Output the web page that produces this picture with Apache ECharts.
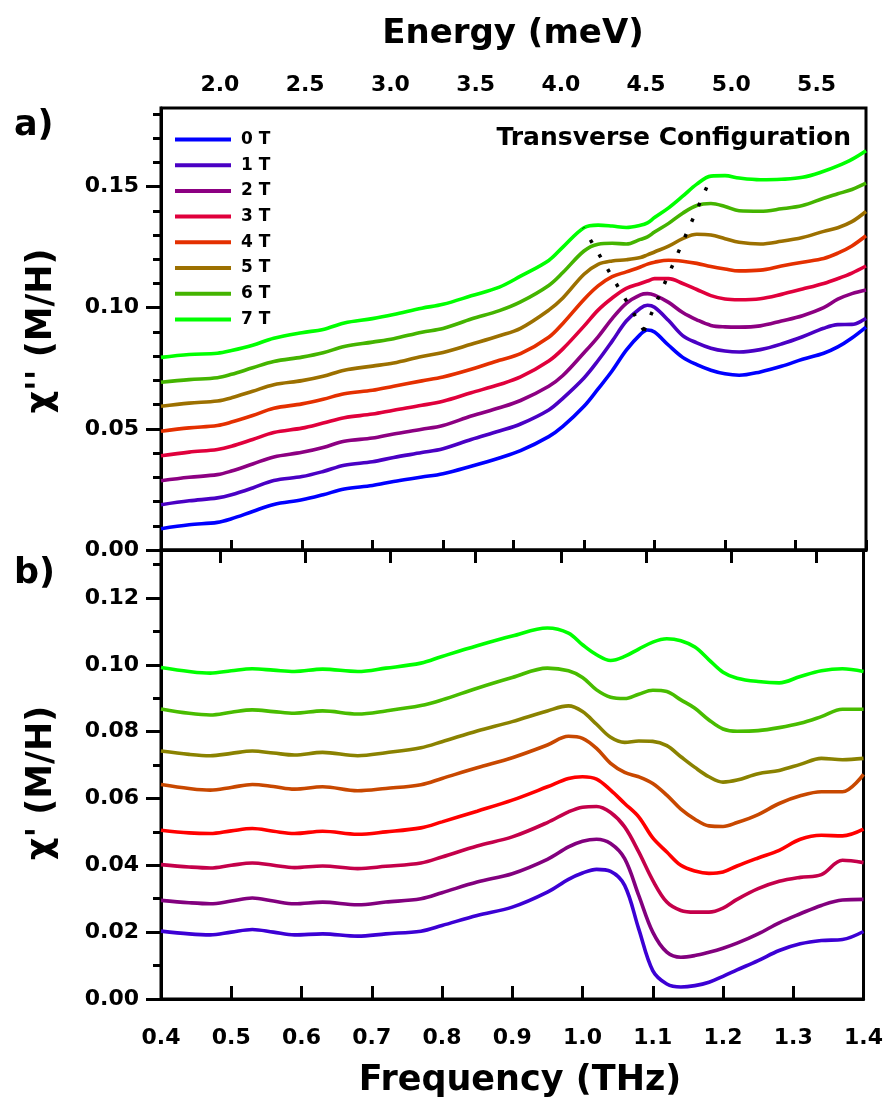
<!DOCTYPE html>
<html>
<head>
<meta charset="utf-8">
<script src="https://cdn.jsdelivr.net/npm/echarts@6/dist/echarts.min.js"></script>
<style>
  html, body { margin: 0; padding: 0; background: #fff; }
  #chart { width: 886px; height: 1105px; }
</style>
</head>
<body>
<div id="chart"></div>
<script>
// Applied field for each trace
const FIELDS = ['0 T', '1 T', '2 T', '3 T', '4 T', '5 T', '6 T', '7 T'];

// (a) imaginary part chi'' (offset traces)
const FREQ_A = [0.40, 0.44, 0.48, 0.50, 0.53, 0.56, 0.60, 0.63, 0.66, 0.70, 0.73, 0.77, 0.80, 0.84, 0.88, 0.91,
  0.95, 0.97, 1.00, 1.02, 1.04, 1.06, 1.08, 1.09, 1.10, 1.12, 1.14, 1.16, 1.18, 1.20, 1.22, 1.25, 1.28, 1.31,
  1.34, 1.36, 1.38, 1.40];
const CHI2_0T = [0.0088, 0.0104, 0.0114, 0.0129, 0.0159, 0.0188, 0.0207, 0.0228, 0.0252, 0.0266, 0.0283, 0.0301,
  0.0315, 0.0346, 0.0380, 0.0410, 0.0468, 0.0510, 0.0593, 0.0665, 0.0740, 0.0825, 0.0890, 0.0908, 0.0900, 0.0845,
  0.0795, 0.0765, 0.0742, 0.0727, 0.0721, 0.0735, 0.0758, 0.0787, 0.0812, 0.0838, 0.0875, 0.0920];
const CHI2_1T = [0.0187, 0.0203, 0.0215, 0.0228, 0.0256, 0.0287, 0.0303, 0.0324, 0.0350, 0.0364, 0.0382, 0.0402,
  0.0418, 0.0456, 0.0491, 0.0520, 0.0578, 0.0626, 0.0710, 0.0782, 0.0862, 0.0945, 0.0998, 0.1010, 0.1002, 0.0947,
  0.0885, 0.0855, 0.0833, 0.0821, 0.0817, 0.0827, 0.0850, 0.0880, 0.0915, 0.0930, 0.0931, 0.0956];
const CHI2_2T = [0.0286, 0.0300, 0.0311, 0.0326, 0.0355, 0.0384, 0.0403, 0.0423, 0.0449, 0.0462, 0.0479, 0.0498,
  0.0514, 0.0553, 0.0587, 0.0617, 0.0676, 0.0720, 0.0814, 0.0880, 0.0955, 0.1018, 0.1053, 0.1058, 0.1052, 0.1022,
  0.0980, 0.0950, 0.0927, 0.0921, 0.0920, 0.0925, 0.0945, 0.0967, 0.1000, 0.1035, 0.1058, 0.1073];
const CHI2_3T = [0.0389, 0.0404, 0.0415, 0.0428, 0.0456, 0.0485, 0.0503, 0.0524, 0.0546, 0.0561, 0.0577, 0.0597,
  0.0614, 0.0649, 0.0683, 0.0714, 0.0780, 0.0830, 0.0924, 0.0990, 0.1040, 0.1080, 0.1100, 0.1110, 0.1120, 0.1120,
  0.1100, 0.1075, 0.1050, 0.1036, 0.1033, 0.1037, 0.1055, 0.1077, 0.1100, 0.1120, 0.1143, 0.1172];
const CHI2_4T = [0.0490, 0.0504, 0.0514, 0.0528, 0.0555, 0.0585, 0.0603, 0.0622, 0.0645, 0.0659, 0.0676, 0.0698,
  0.0714, 0.0746, 0.0783, 0.0810, 0.0878, 0.0935, 0.1034, 0.1090, 0.1128, 0.1148, 0.1168, 0.1180, 0.1188, 0.1196,
  0.1192, 0.1183, 0.1170, 0.1160, 0.1152, 0.1155, 0.1172, 0.1188, 0.1203, 0.1225, 0.1255, 0.1297];
const CHI2_5T = [0.0593, 0.0606, 0.0615, 0.0628, 0.0655, 0.0682, 0.0699, 0.0717, 0.0742, 0.0759, 0.0772, 0.0799,
  0.0815, 0.0849, 0.0884, 0.0915, 0.0990, 0.1040, 0.1138, 0.1179, 0.1193, 0.1198, 0.1207, 0.1218, 0.1230, 0.1254,
  0.1285, 0.1303, 0.1300, 0.1285, 0.1270, 0.1263, 0.1274, 0.1290, 0.1315, 0.1330, 0.1355, 0.1397];
const CHI2_6T = [0.0692, 0.0703, 0.0711, 0.0725, 0.0752, 0.0778, 0.0796, 0.0814, 0.0840, 0.0858, 0.0872, 0.0899,
  0.0914, 0.0953, 0.0988, 0.1024, 0.1092, 0.1145, 0.1234, 0.1262, 0.1266, 0.1263, 0.1282, 0.1292, 0.1312, 0.1348,
  0.1390, 0.1422, 0.1430, 0.1418, 0.1400, 0.1398, 0.1408, 0.1422, 0.1452, 0.1470, 0.1488, 0.1514];
const CHI2_7T = [0.0795, 0.0807, 0.0812, 0.0823, 0.0845, 0.0874, 0.0897, 0.0910, 0.0937, 0.0955, 0.0972, 0.0998,
  0.1014, 0.1049, 0.1085, 0.1130, 0.1195, 0.1250, 0.1330, 0.1341, 0.1337, 0.1331, 0.1340, 0.1350, 0.1372, 0.1412,
  0.1460, 0.1510, 0.1543, 0.1545, 0.1535, 0.1528, 0.1530, 0.1538, 0.1563, 0.1585, 0.1612, 0.1648];

// Mode splitting guides: lower and upper branch, from the zero-field peak
const SPLIT_LOWER = [[1.085, 0.0905], [0.999, 0.1330]];
const SPLIT_UPPER = [[1.085, 0.0905], [1.176, 0.1510]];

// (b) real part chi' (offset traces)
const FREQ_B = [0.40, 0.44, 0.47, 0.50, 0.53, 0.56, 0.59, 0.63, 0.68, 0.72, 0.77, 0.80, 0.85, 0.90, 0.95, 0.98,
  1.00, 1.02, 1.04, 1.06, 1.08, 1.10, 1.12, 1.14, 1.16, 1.18, 1.20, 1.22, 1.25, 1.28, 1.31, 1.34, 1.37, 1.40];
const CHI1_0T = [0.0203, 0.0195, 0.0192, 0.0200, 0.0208, 0.0200, 0.0192, 0.0195, 0.0188, 0.0195, 0.0203, 0.0220,
  0.0250, 0.0275, 0.0320, 0.0358, 0.0377, 0.0388, 0.0382, 0.0340, 0.0210, 0.0085, 0.0045, 0.0036, 0.0040, 0.0050,
  0.0068, 0.0087, 0.0115, 0.0145, 0.0165, 0.0175, 0.0178, 0.0202];
const CHI1_1T = [0.0295, 0.0288, 0.0285, 0.0293, 0.0302, 0.0293, 0.0285, 0.0290, 0.0282, 0.0290, 0.0300, 0.0318,
  0.0350, 0.0375, 0.0418, 0.0455, 0.0472, 0.0478, 0.0465, 0.0420, 0.0310, 0.0200, 0.0140, 0.0125, 0.0130, 0.0140,
  0.0152, 0.0167, 0.0195, 0.0228, 0.0255, 0.0280, 0.0296, 0.0298];
const CHI1_2T = [0.0402, 0.0395, 0.0392, 0.0400, 0.0407, 0.0400, 0.0393, 0.0398, 0.0390, 0.0397, 0.0407, 0.0425,
  0.0458, 0.0485, 0.0528, 0.0560, 0.0574, 0.0576, 0.0558, 0.0515, 0.0440, 0.0355, 0.0290, 0.0265, 0.0260, 0.0260,
  0.0272, 0.0298, 0.0330, 0.0352, 0.0364, 0.0372, 0.0415, 0.0408];
const CHI1_3T = [0.0505, 0.0497, 0.0495, 0.0503, 0.0510, 0.0502, 0.0495, 0.0502, 0.0493, 0.0500, 0.0512, 0.0530,
  0.0562, 0.0595, 0.0635, 0.0660, 0.0665, 0.0658, 0.0625, 0.0585, 0.0545, 0.0482, 0.0440, 0.0400, 0.0383, 0.0376,
  0.0380, 0.0398, 0.0422, 0.0445, 0.0478, 0.0490, 0.0488, 0.0508];
const CHI1_4T = [0.0642, 0.0630, 0.0625, 0.0633, 0.0642, 0.0636, 0.0628, 0.0635, 0.0623, 0.0630, 0.0641, 0.0660,
  0.0692, 0.0722, 0.0760, 0.0786, 0.0780, 0.0750, 0.0705, 0.0678, 0.0665, 0.0645, 0.0610, 0.0568, 0.0538, 0.0518,
  0.0516, 0.0528, 0.0552, 0.0585, 0.0608, 0.0620, 0.0620, 0.0672];
const CHI1_5T = [0.0742, 0.0732, 0.0728, 0.0735, 0.0742, 0.0736, 0.0730, 0.0738, 0.0728, 0.0737, 0.0752, 0.0770,
  0.0802, 0.0830, 0.0862, 0.0877, 0.0860, 0.0822, 0.0783, 0.0768, 0.0772, 0.0771, 0.0758, 0.0725, 0.0693, 0.0665,
  0.0649, 0.0655, 0.0674, 0.0684, 0.0702, 0.0720, 0.0716, 0.0720];
const CHI1_6T = [0.0868, 0.0855, 0.0850, 0.0858, 0.0865, 0.0860, 0.0855, 0.0862, 0.0853, 0.0862, 0.0878, 0.0895,
  0.0930, 0.0962, 0.0990, 0.0982, 0.0962, 0.0925, 0.0903, 0.0899, 0.0912, 0.0924, 0.0920, 0.0895, 0.0870, 0.0835,
  0.0808, 0.0801, 0.0803, 0.0812, 0.0825, 0.0845, 0.0867, 0.0867];
const CHI1_7T = [0.0992, 0.0980, 0.0975, 0.0982, 0.0988, 0.0984, 0.0980, 0.0987, 0.0980, 0.0990, 0.1005, 0.1025,
  0.1057, 0.1086, 0.1110, 0.1095, 0.1060, 0.1030, 0.1013, 0.1025, 0.1047, 0.1068, 0.1078, 0.1072, 0.1053, 0.1015,
  0.0978, 0.0960, 0.0950, 0.0946, 0.0965, 0.0982, 0.0988, 0.0980];

// Tick labels
const FREQ_TICKS = [0.4, 0.5, 0.6, 0.7, 0.8, 0.9, 1.0, 1.1, 1.2, 1.3, 1.4];
const ENERGY_TICKS = [2.0, 2.5, 3.0, 3.5, 4.0, 4.5, 5.0, 5.5];
const CHI2_TICKS = [0.00, 0.05, 0.10, 0.15];
const CHI1_TICKS = [0.00, 0.02, 0.04, 0.06, 0.08, 0.10, 0.12];

const MEV_PER_THZ = 4.1357;
const F_MIN = 0.4, F_MAX = 1.4;

const CHI2_SET = [CHI2_0T, CHI2_1T, CHI2_2T, CHI2_3T, CHI2_4T, CHI2_5T, CHI2_6T, CHI2_7T];
const CHI1_SET = [CHI1_0T, CHI1_1T, CHI1_2T, CHI1_3T, CHI1_4T, CHI1_5T, CHI1_6T, CHI1_7T];

const COLORS_A = ['#0000ff', '#4a00c4', '#8c0082', '#e0003c', '#e43000', '#9c7000', '#44b400', '#00ff00'];
const COLORS_B = ['#3c00d4', '#82007e', '#c4004a', '#ff0000', '#c84800', '#8a8200', '#48bc00', '#00ff00'];

const FONT = '"DejaVu Sans", "Liberation Sans", sans-serif';

function steps(start, end, step) {
  const out = [];
  for (let k = 0; start + k * step <= end + 1e-9; k++) out.push(+(start + k * step).toFixed(4));
  return out;
}
const MINOR_A = steps(0, 0.18, 0.01);
const MINOR_B = steps(0, 0.13, 0.01);

const chart = echarts.init(document.getElementById('chart'), null, { renderer: 'canvas' });

const tickLabel = { color: '#000', fontFamily: FONT, fontWeight: 'bold', fontSize: 22 };
const blackLine = { color: '#000', width: 3 };

const series = [];
FIELDS.forEach((name, i) => {
  series.push({
    name, type: 'line', xAxisIndex: 0, yAxisIndex: 0,
    data: FREQ_A.map((f, k) => [f, CHI2_SET[i][k]]),
    showSymbol: false, symbol: 'none', smooth: 0.35,
    lineStyle: { color: COLORS_A[i], width: 3.6 }, itemStyle: { color: COLORS_A[i] },
    z: 3
  });
});
FIELDS.forEach((name, i) => {
  series.push({
    name, type: 'line', xAxisIndex: 2, yAxisIndex: 2,
    data: FREQ_B.map((f, k) => [f, CHI1_SET[i][k]]),
    showSymbol: false, symbol: 'none', smooth: 0.35,
    lineStyle: { color: COLORS_B[i], width: 3.6 }, itemStyle: { color: COLORS_B[i] },
    z: 3
  });
});
[SPLIT_LOWER, SPLIT_UPPER].forEach((seg) => {
  series.push({
    type: 'line', xAxisIndex: 0, yAxisIndex: 0, data: seg,
    showSymbol: false, symbol: 'none', silent: true,
    lineStyle: { color: '#000', width: 3.5, type: [3.5, 13.5], cap: 'butt' },
    z: 4
  });
});

const option = {
  animation: false,
  backgroundColor: '#fff',
  grid: [
    { left: 161, right: 20, top: 108, height: 442, show: true, borderColor: '#000', borderWidth: 3, backgroundColor: 'transparent' },
    { left: 161, right: 20, top: 550, height: 449, show: true, borderColor: '#000', borderWidth: 3, backgroundColor: 'transparent' }
  ],
  xAxis: [
    { // (a) frequency, ticks only
      type: 'value', gridIndex: 0, min: F_MIN, max: F_MAX, position: 'bottom',
      axisLine: { show: true, lineStyle: blackLine },
      axisTick: { show: true, inside: true, length: 10, lineStyle: blackLine, customValues: FREQ_TICKS },
      axisLabel: { show: false }, splitLine: { show: false }
    },
    { // (a) energy scale on top
      type: 'value', gridIndex: 0, min: F_MIN * MEV_PER_THZ, max: F_MAX * MEV_PER_THZ, position: 'top',
      axisLine: { show: true, lineStyle: blackLine },
      axisTick: { show: true, inside: true, length: 13, lineStyle: blackLine, customValues: ENERGY_TICKS },
      axisLabel: Object.assign({ margin: 12, customValues: ENERGY_TICKS, formatter: v => v.toFixed(1) }, tickLabel),
      splitLine: { show: false }
    },
    { // (b) frequency with labels
      type: 'value', gridIndex: 1, min: F_MIN, max: F_MAX, position: 'bottom',
      axisLine: { show: true, lineStyle: blackLine },
      axisTick: { show: true, inside: true, length: 13, lineStyle: blackLine, customValues: FREQ_TICKS },
      axisLabel: Object.assign({ margin: 28, customValues: FREQ_TICKS, formatter: v => v.toFixed(1) }, tickLabel),
      splitLine: { show: false }
    }
  ],
  yAxis: [
    { // (a) major
      type: 'value', gridIndex: 0, min: 0, max: 442 / 2423, position: 'left',
      axisLine: { show: true, lineStyle: blackLine },
      axisTick: { show: true, inside: false, length: 15, lineStyle: blackLine, customValues: CHI2_TICKS },
      axisLabel: Object.assign({ margin: 22, customValues: CHI2_TICKS, formatter: v => v.toFixed(2) }, tickLabel),
      splitLine: { show: false }
    },
    { // (a) minor
      type: 'value', gridIndex: 0, min: 0, max: 442 / 2423, position: 'left',
      axisLine: { show: false },
      axisTick: { show: true, inside: false, length: 8, lineStyle: blackLine, customValues: MINOR_A },
      axisLabel: { show: false }, splitLine: { show: false }
    },
    { // (b) major
      type: 'value', gridIndex: 1, min: 0, max: 449 / 3342, position: 'left',
      axisLine: { show: true, lineStyle: blackLine },
      axisTick: { show: true, inside: false, length: 15, lineStyle: blackLine, customValues: CHI1_TICKS },
      axisLabel: Object.assign({ margin: 22, customValues: CHI1_TICKS, formatter: v => v.toFixed(2) }, tickLabel),
      splitLine: { show: false }
    },
    { // (b) minor
      type: 'value', gridIndex: 1, min: 0, max: 449 / 3342, position: 'left',
      axisLine: { show: false },
      axisTick: { show: true, inside: false, length: 8, lineStyle: blackLine, customValues: MINOR_B },
      axisLabel: { show: false }, splitLine: { show: false }
    }
  ],
  legend: {
    data: FIELDS, orient: 'vertical', left: 170, top: 126,
    itemWidth: 56, itemHeight: 4, itemGap: 8.7,
    icon: 'rect',
    selectedMode: false,
    textStyle: { color: '#000', fontFamily: FONT, fontWeight: 'bold', fontSize: 17, lineHeight: 17, padding: [0, 0, 0, 5] }
  },
  graphic: [
    { type: 'text', left: 14, top: 108, style: { text: 'a)', font: 'bold 35px ' + FONT, fill: '#000' } },
    { type: 'text', left: 14, top: 556, style: { text: 'b)', font: 'bold 35px ' + FONT, fill: '#000' } },
    { type: 'text', x: 513, y: 34, style: { text: 'Energy (meV)', font: 'bold 34px ' + FONT, fill: '#000', textAlign: 'center', textVerticalAlign: 'middle' } },
    { type: 'text', x: 520, y: 1081, style: { text: 'Frequency (THz)', font: 'bold 35px ' + FONT, fill: '#000', textAlign: 'center', textVerticalAlign: 'middle' } },
    { type: 'text', x: 42, y: 331, rotation: Math.PI / 2, style: { text: "\u03c7'' (M/H)", font: 'bold 35px ' + FONT, fill: '#000', textAlign: 'center', textVerticalAlign: 'middle' } },
    { type: 'text', x: 42, y: 783, rotation: Math.PI / 2, style: { text: "\u03c7' (M/H)", font: 'bold 35px ' + FONT, fill: '#000', textAlign: 'center', textVerticalAlign: 'middle' } },
    { type: 'text', x: 851, y: 138, style: { text: 'Transverse Configuration', font: 'bold 25px ' + FONT, fill: '#000', textAlign: 'right', textVerticalAlign: 'middle' } }
  ],
  series
};

chart.setOption(option);
</script>
</body>
</html>
